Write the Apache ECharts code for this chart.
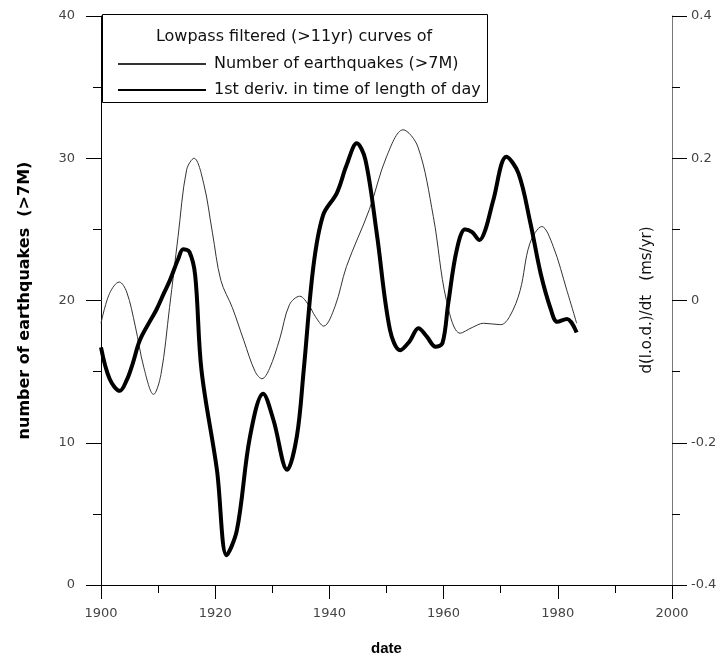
<!DOCTYPE html>
<html>
<head>
<meta charset="utf-8">
<script src="https://cdn.jsdelivr.net/npm/echarts@6/dist/echarts.min.js"></script>
<style>html,body{margin:0;padding:0;background:#fff}#c{width:728px;height:658px}</style>
</head>
<body>
<div id="c"></div>
<script>
const eqYears = [1900,1901.5,1903.2,1904.5,1906,1907.5,1909.2,1910.5,1912,1913.5,1915,1916.3,1918,1919.5,1921,1923,1925,1927,1928.2,1929.5,1931.3,1933,1934.8,1936.5,1937.5,1939,1941,1943,1947,1950,1952.9,1955.5,1958.2,1960.5,1962.9,1965,1967,1970,1971.6,1973.4,1975.1,1977.2,1979.2,1981.6,1983.3];
const eqValues = [18.4,20.5,21.3,20.6,18.2,15.3,13.4,14.8,19.5,24.5,29.2,30.0,28.2,24.8,21.4,19.5,17.2,15.0,14.5,15.2,17.3,19.7,20.3,19.6,18.9,18.2,19.6,22.4,26.4,30.1,32.0,30.8,25.9,20.0,17.7,18.1,18.4,18.3,18.9,20.7,24.0,25.2,23.8,20.7,18.4];
const lodYears = [1900,1901.5,1903.3,1904.5,1905.5,1906.8,1908.5,1909.7,1911,1912.1,1913.5,1914.4,1915.5,1916.5,1917.6,1920.3,1922,1923.8,1926.1,1928.4,1930.2,1932.6,1934.3,1935.5,1937.2,1938.9,1941.3,1943,1944.8,1946.3,1948.3,1950.6,1952.4,1954,1955.6,1957,1958.6,1959.8,1960.8,1962.3,1963.8,1965,1966.3,1967.3,1968.7,1971,1973.1,1975.2,1977,1978.8,1979.9,1981.6,1983.3];
const lodValues = [-0.066,-0.11,-0.127,-0.112,-0.09,-0.056,-0.03,-0.013,0.01,0.029,0.058,0.072,0.068,0.035,-0.098,-0.238,-0.358,-0.323,-0.191,-0.131,-0.168,-0.238,-0.191,-0.098,0.048,0.120,0.151,0.19,0.221,0.198,0.094,-0.041,-0.070,-0.058,-0.039,-0.05,-0.065,-0.06,-0.005,0.071,0.100,0.096,0.085,0.099,0.141,0.202,0.179,0.109,0.038,-0.013,-0.030,-0.026,-0.045];
const seriesNames = ['Number of earthquakes (>7M)', '1st deriv. in time of length of day'];
const legendTitle = 'Lowpass filtered (>11yr) curves of';
const leftAxisName = 'number of earthquakes  (>7M)';
const rightAxisName = 'd(l.o.d.)/dt   (ms/yr)';

const FONT = '"DejaVu Sans", sans-serif';
const BFONT = '"Liberation Sans", Arial, sans-serif';
const chart = echarts.init(document.getElementById('c'), null, {renderer: 'canvas'});
const lbl = {color: '#444', fontFamily: FONT, fontSize: 13};
chart.setOption({
  animation: false,
  backgroundColor: '#fff',
  grid: {left: 101, right: 56, top: 16, bottom: 73, containLabel: false, outerBoundsMode: 'none'},
  graphic: [
    {type: 'rect', z: 1, shape: {x: 102.5, y: 14.5, width: 385, height: 88}, style: {fill: '#fff', stroke: '#000', lineWidth: 1}},
    {type: 'text', z: 2, style: {x: 294, y: 37, text: legendTitle, align: 'center', verticalAlign: 'middle', fill: '#111', font: '16px ' + FONT}},
    {type: 'text', z: 2, rotation: Math.PI / 2, x: 647, y: 300,
     style: {text: rightAxisName, align: 'center', verticalAlign: 'middle', fill: '#111', font: '15px ' + FONT}}
  ],
  legend: {
    orient: 'vertical', left: 112, top: 51, z: 5,
    itemWidth: 88, itemHeight: 14, itemGap: 10,
    data: seriesNames,
    itemStyle: {opacity: 0},
    textStyle: {color: '#111', fontFamily: FONT, fontSize: 16, padding: [0, 0, 0, 3]}
  },
  xAxis: {
    type: 'value', min: 1900, max: 2000, interval: 20,
    name: 'date', nameLocation: 'middle', nameGap: 56,
    nameTextStyle: {color: '#000', fontFamily: BFONT, fontSize: 15, fontWeight: 'bold'},
    axisLine: {lineStyle: {color: '#000'}},
    axisTick: {length: 14, lineStyle: {color: '#000'}},
    minorTick: {show: true, splitNumber: 2, length: 8, lineStyle: {color: '#000'}},
    splitLine: {show: false},
    axisLabel: Object.assign({margin: 22, formatter: v => String(v)}, lbl)
  },
  yAxis: [
    {
      type: 'value', min: 0, max: 40, interval: 10, position: 'left',
      name: leftAxisName, nameLocation: 'middle', nameGap: 68, nameRotate: 90,
      nameTextStyle: {color: '#000', fontFamily: FONT, fontSize: 16, fontWeight: 'bold'},
      axisLine: {show: true, lineStyle: {color: '#000'}},
      axisTick: {show: true, length: 15, lineStyle: {color: '#000'}},
      minorTick: {show: true, splitNumber: 2, length: 8, lineStyle: {color: '#000'}},
      splitLine: {show: false},
      axisLabel: Object.assign({margin: 26}, lbl)
    },
    {
      type: 'value', min: -0.4, max: 0.4, interval: 0.2, position: 'right',
      axisLine: {show: true, lineStyle: {color: '#777'}},
      axisTick: {show: true, length: 15, lineStyle: {color: '#000'}},
      minorTick: {show: true, splitNumber: 2, length: 8, lineStyle: {color: '#000'}},
      splitLine: {show: false},
      axisLabel: Object.assign({margin: 19, formatter: v => String(Math.round(v * 10) / 10)}, lbl)
    }
  ],
  series: [
    {
      name: seriesNames[0], type: 'line', yAxisIndex: 0, z: 3,
      data: eqYears.map((y, i) => [y, eqValues[i]]),
      smooth: 0.35, symbol: 'none', showSymbol: false,
      lineStyle: {color: '#333', width: 1}, itemStyle: {color: '#333'}
    },
    {
      name: seriesNames[1], type: 'line', yAxisIndex: 1, z: 4,
      data: lodYears.map((y, i) => [y, lodValues[i]]),
      smooth: 0.35, symbol: 'none', showSymbol: false,
      lineStyle: {color: '#000', width: 4}, itemStyle: {color: '#000'}
    }
  ]
});
</script>
</body>
</html>
